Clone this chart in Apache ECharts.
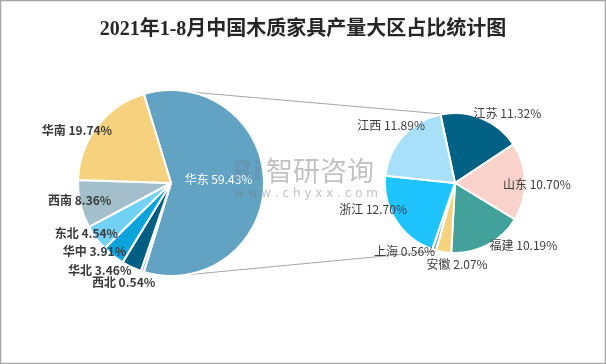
<!DOCTYPE html>
<html><head><meta charset="utf-8">
<script src="https://cdn.jsdelivr.net/npm/echarts@6/dist/echarts.min.js"></script>
<style>html,body{margin:0;padding:0;background:#fff}#c{width:606px;height:364px}</style>
</head><body><div id="c"></div>
<script>
// ---- data ----
const chartTitle = '2021年1-8月中国木质家具产量大区占比统计图';
const regionNames = ['华东','西北','华北','华中','东北','西南','华南'];
const regionValues = [59.43, 0.54, 3.46, 3.91, 4.54, 8.36, 19.74];
const provinceNames = ['江苏','山东','福建','安徽','上海','浙江','江西'];
const provinceValues = [11.32, 10.70, 10.19, 2.07, 0.56, 12.70, 11.89];

// ---- style ----
const regionColors = ['#62A3C4','#9cc2d8','#005E82','#0BA3DB','#72D1F7','#A3BFCC','#F6D27E'];
const provinceColors = ['#006185','#F8D2CB','#42A29B','#F6D27E','#96B7C8','#1FC4FF','#A9E0F9'];
const regionLabelShift = [[-2,-4],[18,11],[5,3],[18,-4],[27,-5],[36,-4],[20,4]];
const provinceLabelShift = [[-13,-5],[-27,3],[-3,0],[49,12],[6,2],[16,-11],[27,-11]];
const leftPie = {cx:171, cy:183, r:93, start:107};
const rightPie = {cx:455, cy:183, r:70, start:102};
const connectorAngles = {leftTop:12, leftBottom:172, rightTop:-10, rightBottom:194};
const FONT = '"Noto Sans CJK SC", "Noto Sans", sans-serif';

function polar(p, deg){ const a = deg*Math.PI/180; return [p.cx + p.r*Math.sin(a), p.cy - p.r*Math.cos(a)]; }
const fmt = p => p.name + ' ' + p.value.toFixed(2) + '%';

const lt = polar(leftPie, connectorAngles.leftTop), lb = polar(leftPie, connectorAngles.leftBottom);
const rt = polar(rightPie, connectorAngles.rightTop), rb = polar(rightPie, connectorAngles.rightBottom);

const chart = echarts.init(document.getElementById('c'), null, {renderer:'canvas'});
chart.setOption({
  backgroundColor:'#fff',
  animation:false,
  title:{ text: chartTitle, left:'center', top:15,
    textStyle:{ fontSize:20, fontWeight:'bold', color:'#262626', fontFamily:'"Liberation Serif", "Noto Sans CJK SC", serif' } },
  graphic:[
    { type:'rect', shape:{x:0.5,y:0.5,width:605,height:363}, style:{fill:null, stroke:'#a6a6a6', lineWidth:1.5}, z:0, silent:true },
    { type:'line', shape:{x1:lt[0],y1:lt[1],x2:rt[0],y2:rt[1]}, style:{stroke:'#a6a6a6', lineWidth:1}, z:0, silent:true },
    { type:'line', shape:{x1:lb[0],y1:lb[1],x2:rb[0],y2:rb[1]}, style:{stroke:'#a6a6a6', lineWidth:1}, z:0, silent:true },
    { type:'text', left:233, top:160, z:100, silent:true, style:{ text:'Ri', font:'bold 26px "DejaVu Sans"', fill:'rgba(110,130,150,0.3)' } },
    { type:'text', left:266, top:157, z:100, silent:true, style:{ text:'智研咨询', font:'27px "Noto Sans CJK SC"', fill:'rgba(120,120,120,0.45)' } },
    { type:'text', left:234, top:188, z:100, silent:true, style:{ text:'w w w . c h y x x . c o m', font:'12px "DejaVu Sans"', fill:'rgba(120,120,120,0.45)' } }
  ],
  series:[
    { type:'pie', center:[leftPie.cx, leftPie.cy], radius:[0, leftPie.r], startAngle:leftPie.start,
      avoidLabelOverlap:false, z:2,
      itemStyle:{ borderColor:'#fff', borderWidth:2 },
      label:{ show:true, position:'outside', formatter:fmt, fontSize:12, fontWeight:'bold', color:'#3a3a3a', fontFamily:FONT, distanceToLabelLine:5 },
      labelLine:{ show:false, length:0, length2:0 },
      labelLayout: p => ({ dx: regionLabelShift[p.dataIndex][0], dy: regionLabelShift[p.dataIndex][1] }),
      data: regionNames.map((n,i)=>({ name:n, value:regionValues[i], itemStyle:{color:regionColors[i]},
        label: i===0 ? {position:'inside', color:'#fff', fontWeight:'normal'} : undefined }))
    },
    { type:'pie', center:[rightPie.cx, rightPie.cy], radius:[0, rightPie.r], startAngle:rightPie.start,
      avoidLabelOverlap:false, z:2,
      itemStyle:{ borderColor:'#fff', borderWidth:2 },
      label:{ show:true, position:'outside', formatter:fmt, fontSize:12, color:'#404040', fontFamily:FONT, distanceToLabelLine:5 },
      labelLine:{ show:false, length:0, length2:0 },
      labelLayout: p => ({ dx: provinceLabelShift[p.dataIndex][0], dy: provinceLabelShift[p.dataIndex][1] }),
      data: provinceNames.map((n,i)=>({ name:n, value:provinceValues[i], itemStyle:{color:provinceColors[i]} }))
    }
  ]
});
</script></body></html>
